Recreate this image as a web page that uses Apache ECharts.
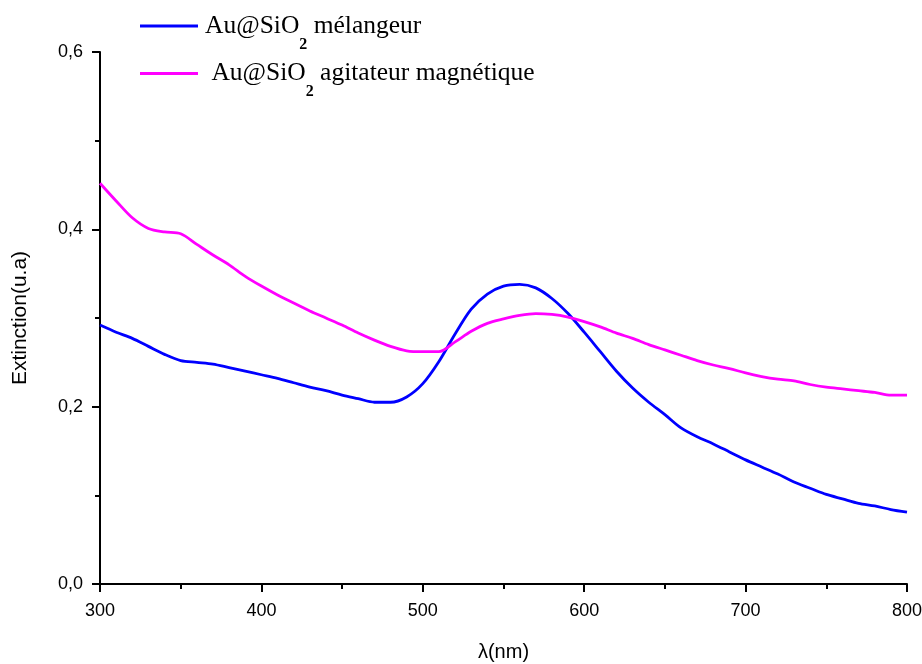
<!DOCTYPE html>
<html>
<head>
<meta charset="utf-8">
<script src="https://cdn.jsdelivr.net/npm/echarts@6/dist/echarts.min.js"></script>
<style>
  html, body { margin: 0; padding: 0; background: #fff; }
  #main { width: 922px; height: 664px; }
</style>
</head>
<body>
<div id="main"></div>
<script>
// longueurs d'onde (nm), un point tous les 10 nm
var wavelengths = [300, 310, 320, 330, 340, 350, 360, 370, 380, 390,
  400, 410, 420, 430, 440, 450, 460, 470, 480, 490,
  500, 510, 520, 530, 540, 550, 560, 570, 580, 590,
  600, 610, 620, 630, 640, 650, 660, 670, 680, 690,
  700, 710, 720, 730, 740, 750, 760, 770, 780, 790, 800];

var melangeur = [0.292, 0.284, 0.277, 0.268, 0.259, 0.252, 0.250, 0.248, 0.244, 0.240,
  0.236, 0.232, 0.227, 0.222, 0.218, 0.213, 0.209, 0.205, 0.205, 0.211,
  0.226, 0.251, 0.282, 0.310, 0.327, 0.336, 0.338, 0.334, 0.322, 0.305,
  0.284, 0.262, 0.240, 0.221, 0.205, 0.191, 0.176, 0.166, 0.158, 0.149,
  0.140, 0.132, 0.124, 0.115, 0.108, 0.101, 0.096, 0.091, 0.088, 0.084, 0.081];

var agitateur = [0.452, 0.432, 0.413, 0.401, 0.397, 0.395, 0.383, 0.371, 0.360, 0.347,
  0.336, 0.326, 0.317, 0.308, 0.300, 0.292, 0.283, 0.275, 0.268, 0.263,
  0.262, 0.262, 0.273, 0.285, 0.294, 0.299, 0.303, 0.305, 0.304, 0.301,
  0.296, 0.290, 0.283, 0.277, 0.270, 0.264, 0.258, 0.252, 0.247, 0.243,
  0.238, 0.234, 0.231, 0.229, 0.225, 0.222, 0.220, 0.218, 0.216, 0.213, 0.213];

var seriesNames = ['Au@SiO2 mélangeur', 'Au@SiO2 agitateur magnétique'];
var legendLabels = {
  'Au@SiO2 mélangeur': '{t|Au@SiO}{s|2}{t| mélangeur}',
  'Au@SiO2 agitateur magnétique': '{t| Au@SiO}{s|2}{t| agitateur magnétique}'
};

function pairs(xs, ys) {
  return xs.map(function (x, i) { return [x, ys[i]]; });
}

var myChart = echarts.init(document.getElementById('main'));

var option = {
  animation: false,
  backgroundColor: '#fff',
  grid: { left: 100, right: 15, top: 52, bottom: 80, outerBoundsMode: 'none', containLabel: false },
  legend: {
    orient: 'vertical',
    left: 140,
    top: 13,
    padding: 0,
    icon: 'rect',
    itemWidth: 58,
    itemHeight: 3,
    itemGap: 8,
    data: seriesNames,
    formatter: function (name) { return legendLabels[name]; },
    textStyle: {
      padding: [0, 0, 0, 2],
      rich: {
        t: { fontFamily: 'Liberation Serif', fontSize: 25.5, color: '#000' },
        s: { fontFamily: 'Liberation Serif', fontSize: 16, fontWeight: 'bold', color: '#000', padding: [37, 0, 0, 0] }
      }
    }
  },
  xAxis: {
    type: 'value',
    min: 300,
    max: 800,
    interval: 100,
    name: 'λ(nm)',
    nameLocation: 'middle',
    nameGap: 58,
    nameTextStyle: { fontFamily: 'Liberation Sans', fontSize: 20, color: '#000' },
    axisLine: { lineStyle: { color: '#000', width: 2 } },
    axisTick: { length: 8, lineStyle: { color: '#000', width: 2 } },
    minorTick: { show: true, splitNumber: 2, length: 5, lineStyle: { color: '#000', width: 2 } },
    axisLabel: { fontFamily: 'Liberation Sans', fontSize: 18, color: '#000', margin: 18 },
    splitLine: { show: false }
  },
  yAxis: {
    type: 'value',
    min: 0,
    max: 0.6,
    interval: 0.2,
    name: 'Extinction(u.a)',
    nameLocation: 'middle',
    nameGap: 69,
    nameTextStyle: { fontFamily: 'Liberation Sans', fontSize: 21, color: '#000' },
    axisLine: { show: true, lineStyle: { color: '#000', width: 2 } },
    axisTick: { show: true, length: 8, lineStyle: { color: '#000', width: 2 } },
    minorTick: { show: true, splitNumber: 2, length: 5, lineStyle: { color: '#000', width: 2 } },
    axisLabel: {
      fontFamily: 'Liberation Sans', fontSize: 18, color: '#000', margin: 17,
      formatter: function (v) { return v.toFixed(1).replace('.', ','); }
    },
    splitLine: { show: false }
  },
  series: [
    {
      name: seriesNames[0],
      type: 'line',
      data: pairs(wavelengths, melangeur),
      smooth: 0.3,
      symbol: 'none',
      lineStyle: { color: '#0000ff', width: 2.8 },
      itemStyle: { color: '#0000ff' }
    },
    {
      name: seriesNames[1],
      type: 'line',
      data: pairs(wavelengths, agitateur),
      smooth: 0.3,
      symbol: 'none',
      lineStyle: { color: '#ff00ff', width: 2.8 },
      itemStyle: { color: '#ff00ff' }
    }
  ]
};

myChart.setOption(option);
</script>
</body>
</html>
